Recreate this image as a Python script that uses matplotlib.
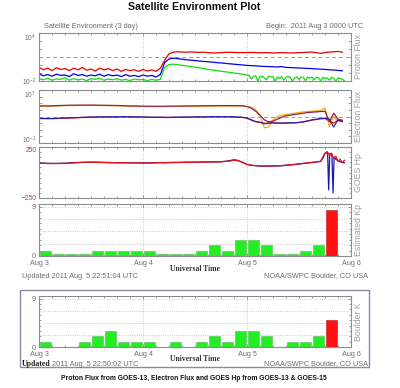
import numpy as np
import matplotlib
matplotlib.use("Agg")
import matplotlib.pyplot as plt
from matplotlib.patches import Rectangle
from matplotlib.ticker import NullLocator

# ---------------- data ----------------
# hours from 2011 Aug 3 00:00 UTC
proton_hours = list(range(0, 71))
# log10 proton flux (pfu)
p10_log = [-0.3, -0.6, -0.4, -0.7, -0.35, -0.55, -0.45, -0.7, -0.4, -0.6, -0.3, -0.65, -0.5, -0.75,
           -0.4, -0.6, -0.45, -0.7, -0.5, -0.8, -0.55, -0.7, -0.6, -0.8, -0.55, -0.75, -0.6, -0.8,
           -0.4, 0.6, 1.4, 1.6, 1.65,
           1.62, 1.6, 1.63, 1.6, 1.58, 1.6, 1.55, 1.5, 1.52, 1.55, 1.58, 1.6, 1.57, 1.55, 1.56, 1.55,
           1.57, 1.55, 1.52, 1.55, 1.54, 1.5, 1.52, 1.55, 1.53, 1.5, 1.52, 1.55, 1.56, 1.6, 1.62, 1.55,
           1.45, 1.55, 1.62, 1.65, 1.7, 1.6]
p50_log = [-1.1, -1.35, -1.2, -1.4, -1.15, -1.3, -1.25, -1.45, -1.1, -1.3, -1.2, -1.4, -1.25, -1.35,
           -1.15, -1.4, -1.2, -1.35, -1.25, -1.45, -1.2, -1.4, -1.3, -1.45, -1.25, -1.4, -1.3, -1.5,
           -1.2, 0.3, 0.75, 0.85, 0.8,
           0.72, 0.66, 0.6, 0.56, 0.5, 0.45, 0.4, 0.36, 0.3, 0.26, 0.2, 0.15, 0.1, 0.05, 0.0, -0.05,
           -0.08, -0.1, -0.15, -0.18, -0.2, -0.22, -0.25, -0.2, -0.3, -0.32, -0.35, -0.38, -0.4, -0.42,
           -0.45, -0.5, -0.52, -0.55, -0.6, -0.62, -0.68, -0.72]
p100_hours = list(range(0, 49)) + [48.5 + 0.5 * i for i in range(45)]
p100_log = [-1.7, -1.85, -1.65, -1.9, -1.75, -1.8, -1.6, -1.9, -1.7, -1.85, -1.75, -1.95, -1.7, -1.8,
            -1.65, -1.9, -1.75, -1.85, -1.7, -1.9, -1.8, -1.95, -1.75, -1.85, -1.8, -1.95, -1.8, -1.9,
            -1.8, -0.3, 0.05, 0.1, 0.05,
            -0.05, -0.12, -0.2, -0.27, -0.35, -0.45, -0.55, -0.62, -0.7, -0.78, -0.85, -0.92, -1.0,
            -1.08, -1.15, -1.25,
            -1.3, -1.75, -1.4, -1.35, -2.0, -1.45, -1.4, -1.6, -1.85, -1.4,
            -1.5, -1.45, -2.0, -1.5, -1.7, -1.45, -1.9, -1.5, -1.45, -1.55,
            -2.0, -1.6, -1.5, -1.8, -1.5, -1.55, -1.95, -1.5, -1.65, -1.5,
            -1.85, -1.55, -1.6, -2.0, -1.55, -1.7, -1.6, -1.9, -1.55, -1.65,
            -2.0, -1.6, -1.7, -1.75, -2.0]

# log10 electron flux
electron_hours = list(range(0, 71))
e08_g13_log = [4.55, 4.55, 4.56, 4.58, 4.6, 4.63, 4.65, 4.66, 4.67, 4.68, 4.68, 4.68, 4.68, 4.68,
               4.66, 4.65, 4.64, 4.63, 4.62, 4.6, 4.58, 4.56, 4.55, 4.53, 4.52, 4.5, 4.5, 4.5, 4.5,
               4.5, 4.52, 4.52, 4.52, 4.53, 4.55, 4.55, 4.55, 4.56, 4.57, 4.58, 4.58, 4.6, 4.6, 4.6,
               4.6, 4.6, 4.6, 4.58,
               4.5, 4.4, 4.0, 3.2, 1.3, 1.4, 2.5, 3.0, 3.2, 3.3, 3.4, 3.5, 3.6, 3.7, 3.75, 3.8, 3.85,
               3.9, 4.3, 1.5, 3.0, 2.3, 2.5]
e08_g15_log = [4.6, 4.6, 4.61, 4.62, 4.64, 4.66, 4.68, 4.7, 4.7, 4.71, 4.71, 4.72, 4.72, 4.71, 4.7,
               4.69, 4.68, 4.67, 4.66, 4.64, 4.62, 4.6, 4.59, 4.57, 4.56, 4.55, 4.55, 4.54, 4.54,
               4.55, 4.56, 4.56, 4.57, 4.58, 4.59, 4.6, 4.6, 4.61, 4.62, 4.62, 4.63, 4.64, 4.64,
               4.64, 4.64, 4.64, 4.63, 4.62,
               4.5, 4.25, 3.8, 3.2, 2.5, 2.2, 2.3, 2.6, 2.9, 3.1, 3.2, 3.3, 3.4, 3.5, 3.6, 3.65, 3.7,
               3.75, 3.8, 2.2, 3.5, 2.6, 2.4]
e2_g13_log = [2.72, 2.72, 2.7, 2.7, 2.72, 2.75, 2.78, 2.8, 2.82, 2.85, 2.88, 2.9, 2.92, 2.93, 2.95,
              2.95, 2.95, 2.95, 2.96, 2.97, 2.97, 2.97, 2.95, 2.95, 2.93, 2.92, 2.9, 2.9, 2.9, 2.88,
              2.88, 2.9, 2.9, 2.92, 2.92, 2.93, 2.95, 2.95, 2.95, 2.97, 2.97, 2.98, 2.98, 2.98, 2.97,
              2.95, 2.92, 2.88,
              2.8, 2.5, 2.25, 2.15, 1.9, 2.0, 2.05, 2.0, 2.0, 2.02, 2.05, 2.05, 2.1, 2.2, 2.35, 2.5,
              2.6, 2.7, 2.75, 2.6, 1.4, 2.5, 2.2]
e2_g15_log = [2.68, 2.68, 2.67, 2.67, 2.69, 2.72, 2.74, 2.77, 2.79, 2.82, 2.85, 2.87, 2.89, 2.9, 2.92,
              2.92, 2.92, 2.92, 2.93, 2.94, 2.94, 2.94, 2.92, 2.92, 2.9, 2.89, 2.87, 2.87, 2.87, 2.85,
              2.85, 2.87, 2.87, 2.89, 2.89, 2.9, 2.92, 2.92, 2.92, 2.94, 2.94, 2.95, 2.95, 2.95, 2.94,
              2.92, 2.89, 2.85,
              2.75, 2.45, 2.2, 2.1, 1.95, 2.02, 2.05, 2.02, 2.0, 2.0, 2.02, 2.05, 2.1, 2.18, 2.3, 2.45,
              2.55, 2.65, 2.7, 2.3, 2.0, 2.4, 2.3]

# GOES Hp (nT)
hp13_hours = list(range(0, 66)) + [65.5, 66, 66.5, 67, 67.5, 68, 68.5, 69, 69.5, 70, 70.5]
hp13 = [92, 90, 88, 88, 88, 88, 90, 92, 95, 97, 99, 100, 101, 100, 99, 98, 97, 96, 95, 95, 95, 94,
        94, 94, 93, 93, 94, 95, 96, 96, 97, 98, 98, 99, 100, 100, 101, 101, 102, 102, 103, 104, 105,
        108, 112,
        120, 115, 100, 80, 72, 68, 65, 64, 64, 65, 66, 68, 72, 76, 80, 85, 90, 95, 100, 105, 110,
        150, 190, 205, 170, 190, 140, 160, 110, 130, 100, 120]
hp15_hours = list(range(0, 66)) + [65.5, 66, 66.6, 66.85, 67.1, 67.6, 67.85, 68.1, 68.5, 69, 69.5, 70, 70.5]
hp15 = [94, 92, 90, 89, 89, 90, 91, 93, 96, 98, 100, 101, 102, 101, 100, 99, 98, 97, 96, 96, 96, 95,
        95, 95, 94, 94, 95, 96, 97, 97, 98, 99, 99, 100, 101, 101, 102, 102, 103, 103, 104, 105, 106,
        110, 116,
        125, 118, 98, 78, 70, 66, 63, 62, 62, 63, 64, 66, 70, 74, 78, 83, 88, 93, 98, 103, 108,
        140, 185, 195, -170, 185, 170, -200, 150, 130, 115, 105, 100, 95]

# 3-hourly K indices
kp_estimated = [1, 0.33, 0.33, 0.33, 1, 1, 1, 1,
                1, 0.33, 0.33, 0.33, 1, 2, 1, 3,
                3, 2, 0.33, 0.33, 1, 2, 8.33]
k_boulder = [1, 0, 0, 1, 2, 3, 1, 1,
             1, 0, 1, 0, 1, 2, 1, 3,
             3, 2, 0, 1, 1, 2, 5]

day_labels = ['Aug 3', 'Aug 4', 'Aug 5', 'Aug 6']

# ---------------- figure ----------------
W, H = 400, 388
fig = plt.figure(figsize=(W / 100, H / 100), dpi=100)
plt.rcParams['font.family'] = ['Liberation Sans', 'DejaVu Sans']
plt.rcParams['mathtext.fontset'] = 'custom'
plt.rcParams['mathtext.rm'] = 'Liberation Sans'

GRAY = '#8c8c8c'
TXT = '#6e6e6e'
LAB = '#a0a0a0'


def px_axes(l, t, r, b):
    return fig.add_axes([l / W, 1 - b / H, (r - l) / W, (b - t) / H])


def style(ax, grid=True):
    ax.set_xlim(0, 72)
    for s in ax.spines.values():
        s.set_color(GRAY)
        s.set_linewidth(0.8)
    ax.set_xticks([0, 24, 48, 72])
    ax.set_xticks(np.arange(0, 73, 3), minor=True)
    ax.set_xticklabels([])
    ax.tick_params(axis='both', which='both', direction='in', color=GRAY, top=True, right=True,
                   labelsize=4.8, labelcolor=TXT, width=0.6, pad=2)
    ax.tick_params(which='major', length=2.5)
    ax.tick_params(which='minor', length=1.6)
    if grid:
        for d in (24, 48):
            ax.axvline(d, color='#c4c4c4', ls=':', lw=0.7, zorder=0)


def tidy_ylabels(ax, color=TXT, bottom_va='center_baseline'):
    labs = ax.get_yticklabels()
    labs[-1].set_va('top')
    labs[0].set_va(bottom_va)
    for t in labs:
        t.set_color(color)


def side_label(ax, text):
    ax.text(1.025, 0.5, text, transform=ax.transAxes, rotation=90, ha='center', va='center',
            fontsize=6.3, color=LAB)


# Proton flux
ax1 = px_axes(39, 33, 351, 81)
style(ax1)
ax1.set_yscale('log')
ax1.set_ylim(1e-2, 1e4)
ax1.yaxis.set_minor_locator(NullLocator())
ax1.set_yticks([10.0 ** k for k in range(-2, 5)])
ax1.set_yticklabels(['$10^{-2}$', '', '', '', '', '', '$10^{4}$'])
tidy_ylabels(ax1)
ax1.axhline(10, color='#999999', ls=(0, (4, 3)), lw=0.7)
ax1.plot(p100_hours, 10 ** np.array(p100_log), color='#11dd11', lw=0.9)
ax1.plot(proton_hours, 10 ** np.array(p50_log), color='#0000ee', lw=0.9)
ax1.plot(proton_hours, 10 ** np.array(p10_log), color='#ee0000', lw=0.9)
side_label(ax1, 'Proton Flux')

# Electron flux
ax2 = px_axes(39, 90, 351, 143)
style(ax2)
ax2.set_yscale('log')
ax2.set_ylim(1e-1, 1e7)
ax2.yaxis.set_minor_locator(NullLocator())
ax2.set_yticks([10.0 ** k for k in range(-1, 8)])
ax2.set_yticklabels(['$10^{-1}$'] + [''] * 7 + ['$10^{7}$'])
tidy_ylabels(ax2, bottom_va='baseline')
ax2.axhline(1000, color='#999999', ls=(0, (4, 3)), lw=0.7)
ax2.plot(electron_hours, 10 ** np.array(e08_g13_log), color='#ffaa00', lw=0.9)
ax2.plot(electron_hours, 10 ** np.array(e08_g15_log), color='#8b2252', lw=0.9)
ax2.plot(electron_hours, 10 ** np.array(e2_g15_log), color='#dd1111', lw=0.9)
ax2.plot(electron_hours, 10 ** np.array(e2_g13_log), color='#2020bb', lw=0.8)
side_label(ax2, 'Electron Flux')

# GOES Hp
ax3 = px_axes(39, 147, 351, 198)
style(ax3)
ax3.set_ylim(-250, 250)
ax3.set_yticks([-250, 250])
ax3.set_yticks(np.arange(-250, 251, 50), minor=True)
ax3.set_yticklabels(['\u2212250', '250'])
tidy_ylabels(ax3, '#b03a3a')
ax3.plot(hp15_hours, hp15, color='#1a1aaa', lw=0.9)
ax3.plot(hp13_hours, hp13, color='#ee1111', lw=0.9)
side_label(ax3, 'GOES Hp')

# K-index bar panels
bin_centers = [3 * i + 1.5 for i in range(24)]


def k_panel(ax, values, label):
    style(ax)
    ax.set_ylim(0, 9.5)
    ax.set_yticks([0, 9])
    ax.set_yticks(np.arange(0, 10, 1), minor=True)
    ax.set_yticklabels(['0', '9'])
    ax.tick_params(axis='y', which='major', labelsize=5.2)
    for g in (2.25, 4.5, 6.75, 9):
        ax.axhline(g, color='#bbbbbb', ls=':', lw=0.6, zorder=0)
    n = len(values)
    cols = ['#ff1111' if v >= 5 else '#22ee22' for v in values]
    edges = ['#aa2222' if v >= 5 else '#55bb55' for v in values]
    ax.bar(bin_centers[:n], values, width=2.55, color=cols, edgecolor=edges, linewidth=0.4, zorder=2)
    ax.set_xticklabels(day_labels)
    ax.tick_params(axis='x', which='major', labelsize=5.2, labelcolor=TXT, pad=3)
    side_label(ax, label)


ax4 = px_axes(39, 204, 351, 256)
k_panel(ax4, kp_estimated, 'Estimated Kp')

ax5 = px_axes(39, 296, 351, 347)
k_panel(ax5, k_boulder, 'Boulder K')

# ---------------- texts ----------------
fig.text(194 / W, 1 - 7 / H, 'Satellite Environment Plot', ha='center', va='center',
         fontsize=7.7, fontweight='bold', color='#111111')
fig.text(44 / W, 1 - 27 / H, 'Satellite Environment (3 day)', ha='left', va='center',
         fontsize=5.3, color=TXT)
fig.text(363 / W, 1 - 27 / H, 'Begin:  2011 Aug 3 0000 UTC', ha='right', va='center',
         fontsize=5.3, color=TXT)

serif = ['Liberation Serif', 'DejaVu Serif']
fig.text(195 / W, 1 - 269 / H, 'Universal Time', ha='center', va='center', fontsize=5.5,
         fontweight='bold', family=serif, color='#333333')
fig.text(22 / W, 1 - 276 / H, 'Updated 2011 Aug  5 22:51:04 UTC', ha='left', va='center',
         fontsize=5.3, color=TXT)
fig.text(368 / W, 1 - 276 / H, 'NOAA/SWPC Boulder, CO USA', ha='right', va='center',
         fontsize=5.3, color=TXT)

fig.patches.append(Rectangle((20 / W, 1 - 367 / H), 349 / W, 77 / H, transform=fig.transFigure,
                             fill=False, edgecolor='#8f86a8', linewidth=1.0))
fig.text(195 / W, 1 - 359 / H, 'Universal Time', ha='center', va='center', fontsize=5.5,
         fontweight='bold', family=serif, color='#333333')
fig.text(22 / W, 1 - 364 / H, 'Updated', ha='left', va='center', fontsize=5.6,
         fontweight='bold', family=serif, color='#222222')
fig.text(52 / W, 1 - 364 / H, '2011 Aug  5 22:50:02 UTC', ha='left', va='center',
         fontsize=5.3, color=TXT)
fig.text(368 / W, 1 - 364 / H, 'NOAA/SWPC Boulder, CO USA', ha='right', va='center',
         fontsize=5.3, color=TXT)

fig.text(194 / W, 1 - 379 / H,
         'Proton Flux from GOES-13, Electron Flux and GOES Hp from GOES-13 & GOES-15',
         ha='center', va='center', fontsize=4.9, fontweight='bold', color='#111111')

fig.savefig('out.png', dpi=100)
